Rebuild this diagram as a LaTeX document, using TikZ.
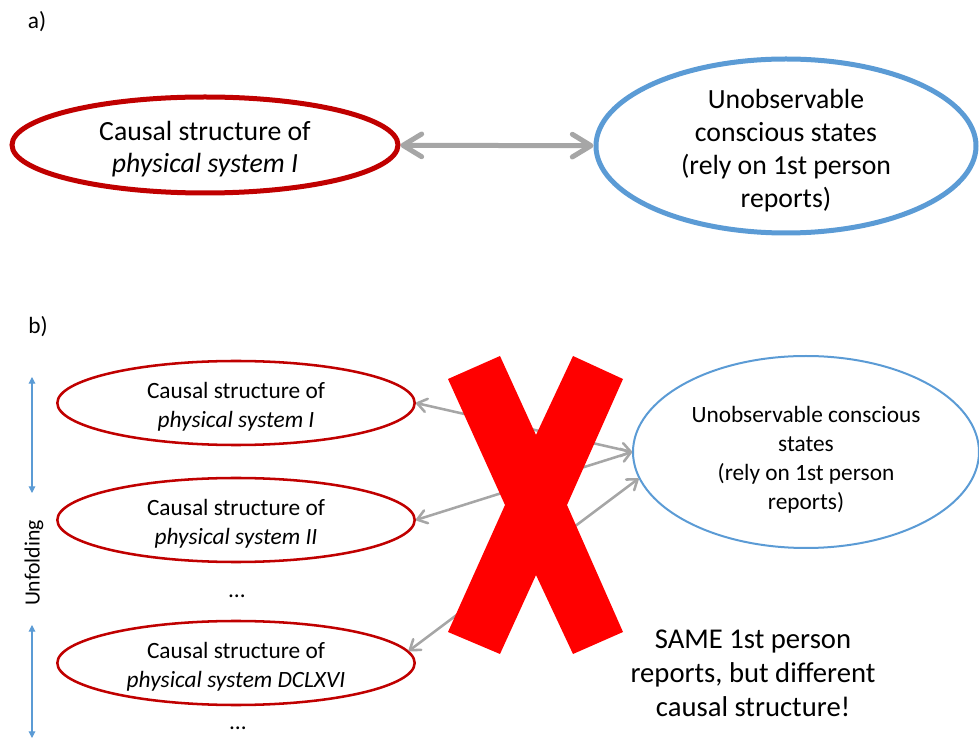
\documentclass[tikz,border=0pt]{standalone}
\usepackage{fontspec}
\setmainfont{Carlito}
\usetikzlibrary{shapes.geometric, arrows.meta}
\definecolor{darkred}{HTML}{C00000}
\definecolor{skyblue}{HTML}{5B9BD5}
\definecolor{arrowgray}{HTML}{A6A6A6}
\definecolor{crossred}{HTML}{FF0000}

\begin{document}
\begin{tikzpicture}[
      x = 0.75pt, y = -0.75pt,
      every node/.style = {align = center, inner sep = 0pt},
      bigcause/.style = {ellipse, draw = darkred, line width = 3.75pt, minimum width = 289.5pt, minimum height = 72pt,
            label = {[font = \fontsize{20.8}{24}\selectfont, yshift = -3pt]center:#1}},
      bigstate/.style = {ellipse, draw = skyblue, line width = 3.75pt, minimum width = 285pt, minimum height = 130.5pt,
            label = {[font = \fontsize{20.8}{24.75}\selectfont, yshift = -3.75pt]center:#1}},
      cause/.style = {ellipse, draw = darkred, line width = 1.9pt, minimum width = 268pt, minimum height = 63pt,
            label = {[font = \fontsize{17.5}{21.75}\selectfont, yshift = -3pt]center:#1}},
      state/.style = {ellipse, draw = skyblue, line width = 1.5pt, minimum width = 259.5pt, minimum height = 144pt,
            label = {[font = \fontsize{17.5}{21.75}\selectfont, yshift = -5.5pt]center:#1}},
      bigarrow/.style = {draw = arrowgray, line width = 3.75pt, {Straight Barb[length = 14pt, width = 17pt, round]}-{Straight Barb[length = 14pt, width = 17pt, round]}},
      thinarrow/.style = {draw = arrowgray, line width = 1.9pt, {Straight Barb[length = 7pt, width = 10pt, round]}-{Straight Barb[length = 7pt, width = 10pt, round]}},
      unfold/.style = {draw = skyblue, line width = 0.8pt, {Triangle[length = 5pt, width = 5pt]}-{Triangle[length = 5pt, width = 5pt]}},
      tag/.style = {font = \fontsize{17.5}{21}\selectfont}
      ]
      \useasboundingbox (0,0) rectangle (979,741);

      \node[tag] (tagA) at (37,22) {a)};
      \node[bigcause = {Causal structure of\\ \textit{physical system I}}] (aCause) at (205,145) {};
      \node[bigstate = {Unobservable\\ conscious states\\ (rely on 1st person\\ reports)}] (aState) at (786,146) {};
      \draw[bigarrow] (aCause) -- (aState);

      \node[tag] (tagB) at (38,327) {b)};
      \node[cause = {Causal structure of\\ \textit{physical system I}}] (b1) at (236,403) {};
      \node[cause = {Causal structure of\\ \textit{physical system II}}] (b2) at (236,520) {};
      \node[cause = {Causal structure of\\ \textit{physical system DCLXVI}}] (b3) at (236,663) {};
      \node[font = \fontsize{17.5}{21}\selectfont] (dots1) at (237,596) {\ldots};
      \node[font = \fontsize{17.5}{21}\selectfont] (dots2) at (238,728) {\ldots};
      \node[state = {Unobservable conscious\\ states\\ (rely on 1st person\\ reports)}] (bState) at (806,452) {};

      \draw[thinarrow] (b1.east) -- (bState.west);
      \draw[thinarrow] (b2.east) -- (bState.west);
      \draw[thinarrow] (b3.4) -- (bState.189);

      \fill[crossred] (448,379) -- (500,356) -- (536,435) -- (573,356) -- (623,379) -- (567,505)
            -- (623,632) -- (573,654) -- (536,575) -- (500,654) -- (448,632) -- (505,505) -- cycle;

      \coordinate (u1) at (32,377);
      \coordinate (u2) at (32,493);
      \coordinate (u3) at (32,625);
      \coordinate (u4) at (32,738);
      \draw[unfold] (u1) -- (u2);
      \draw[unfold] (u3) -- (u4);
      \node[rotate = 90, font = \fontsize{16.3}{19}\selectfont] (unfolding) at (34,563) {Unfolding};

      \node[font = \fontsize{21.5}{25.5}\selectfont] (same) at (753,673) {SAME 1st person\\ reports, but different\\ causal structure!};
    \end{tikzpicture}
\end{document}
